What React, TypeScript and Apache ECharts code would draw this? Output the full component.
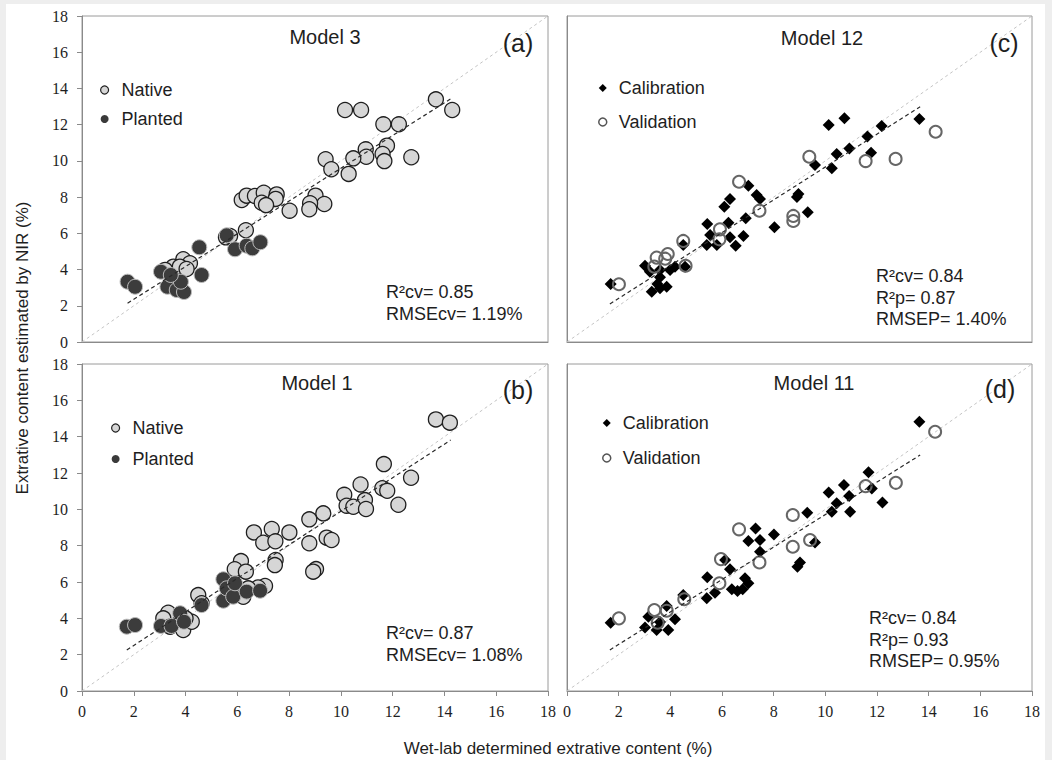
import React, { useEffect, useRef } from "react";
import * as echarts from "echarts";

// ---------- data ----------
const axisTicks = [0, 2, 4, 6, 8, 10, 12, 14, 16, 18];

const nativeA = [[13.67,13.40],[14.30,12.81],[10.16,12.81],[10.78,12.81],[11.64,12.02],[12.24,12.02],[11.78,10.84],[10.96,10.64],[11.61,10.38],[10.98,10.23],[10.48,10.14],[11.68,9.99],[12.72,10.20],[9.41,10.09],[9.63,9.54],[10.30,9.28],[9.02,8.08],[9.36,7.62],[8.81,7.66],[8.78,7.33],[8.02,7.25],[6.17,7.84],[6.36,8.08],[6.68,8.06],[7.02,8.24],[7.52,8.15],[7.48,7.90],[6.94,7.69],[7.11,7.56],[6.33,6.17],[5.56,5.78],[5.72,5.85],[3.91,4.57],[4.17,4.35],[3.53,4.16],[3.78,4.16],[4.04,4.03],[3.21,3.98]];
const plantedA = [[1.76,3.33],[2.05,3.05],[3.05,3.88],[3.30,3.05],[3.66,2.87],[3.94,2.76],[3.82,3.33],[3.43,3.70],[4.62,3.70],[4.53,5.23],[5.91,5.12],[6.36,5.32],[6.58,5.17],[6.89,5.51],[5.59,5.89]];
const regA = [[1.76,2.14],[14.3,13.48]];

const nativeB = [[13.67,14.95],[14.21,14.77],[11.66,12.49],[12.71,11.74],[10.76,11.37],[11.60,11.16],[11.79,11.02],[10.13,10.80],[10.93,10.51],[10.22,10.20],[10.48,10.14],[10.97,10.02],[12.22,10.25],[9.32,9.78],[8.78,9.45],[9.45,8.44],[9.64,8.31],[8.78,8.13],[9.04,6.71],[8.93,6.57],[8.01,8.73],[7.33,8.92],[6.64,8.73],[7.00,8.16],[7.47,8.24],[7.48,7.21],[7.45,6.93],[6.14,7.15],[5.90,6.70],[6.33,6.57],[7.07,5.78],[6.80,5.70],[6.42,5.65],[6.23,5.19],[4.49,5.28],[4.62,4.83],[3.33,4.31],[3.14,4.00],[3.40,3.54],[3.91,3.36],[4.24,3.81],[4.00,4.00]];
const plantedB = [[1.73,3.54],[2.05,3.63],[3.05,3.58],[3.46,3.58],[3.79,4.28],[3.94,3.81],[4.62,4.73],[5.46,6.15],[5.46,4.97],[5.59,5.65],[5.84,5.19],[5.91,5.93],[6.36,5.47],[6.88,5.52]];
const regB = [[1.73,2.26],[14.24,13.81]];

const calC = [[1.69,3.20],[13.64,12.31],[10.13,11.98],[10.74,12.35],[12.18,11.93],[11.63,11.34],[10.93,10.69],[10.44,10.38],[11.77,10.45],[9.60,9.77],[10.25,9.59],[7.02,8.63],[7.34,8.12],[7.47,7.90],[6.31,7.90],[6.09,7.47],[8.96,8.17],[8.90,8.00],[9.32,7.16],[8.03,6.33],[6.92,6.83],[5.43,6.52],[6.25,6.59],[5.54,5.91],[6.31,5.78],[6.83,5.85],[5.41,5.36],[5.80,5.36],[6.53,5.32],[4.50,5.36],[4.57,4.16],[3.02,4.21],[3.21,3.88],[3.60,3.98],[3.99,3.98],[4.18,4.16],[3.60,3.57],[3.28,2.78],[3.60,2.97],[3.86,3.05],[3.50,3.20]];
const valC = [[2.01,3.19],[14.27,11.61],[9.38,10.23],[11.56,9.99],[12.72,10.11],[6.66,8.85],[7.45,7.25],[8.76,6.96],[8.76,6.68],[5.92,6.22],[5.90,5.67],[4.50,5.58],[4.59,4.21],[3.90,4.86],[3.47,4.66],[3.80,4.60],[3.38,4.16]];
const regC = [[1.66,2.10],[13.67,12.99]];

const calD = [[1.69,3.76],[13.64,14.82],[11.67,12.04],[10.72,11.34],[10.13,10.93],[10.92,10.73],[11.80,11.15],[10.44,10.33],[12.21,10.38],[10.25,9.87],[10.96,9.87],[9.30,9.81],[7.30,8.95],[8.01,8.62],[7.02,8.26],[7.47,8.31],[7.47,7.67],[9.60,8.18],[9.02,7.08],[8.92,6.84],[6.12,7.21],[6.31,6.70],[5.43,6.26],[6.89,6.20],[7.02,5.93],[6.80,5.60],[6.38,5.60],[6.60,5.50],[5.73,5.41],[5.41,5.10],[4.50,5.28],[3.86,4.68],[4.18,3.95],[3.15,4.09],[3.02,3.50],[3.47,3.36],[3.92,3.36],[3.60,3.80]];
const valD = [[2.01,4.00],[14.25,14.27],[11.56,11.28],[12.73,11.46],[8.74,9.69],[9.41,8.31],[6.66,8.90],[8.74,7.94],[7.45,7.08],[5.96,7.26],[5.90,5.93],[4.54,5.05],[3.38,4.46],[3.86,4.42],[3.51,3.76]];
const regD = [[1.66,2.26],[13.67,12.99]];

const oneToOne = [[0,0],[18,18]];

const modelTitles = ["Model 3", "Model 1", "Model 12", "Model 11"];
const panelLetters = ["(a)", "(b)", "(c)", "(d)"];
const statsA = ["R²cv= 0.85", "RMSEcv= 1.19%"];
const statsB = ["R²cv= 0.87", "RMSEcv= 1.08%"];
const statsC = ["R²cv= 0.84", "R²p= 0.87", "RMSEP= 1.40%"];
const statsD = ["R²cv= 0.84", "R²p= 0.93", "RMSEP= 0.95%"];
const yTitle = "Extrative content estimated by NIR (%)";
const xTitle = "Wet-lab determined extrative content (%)";

// ---------- styles ----------
const SANS = "Liberation Sans, Arial, sans-serif";
const SERIF = "Liberation Serif, Times New Roman, serif";
const TXT = "#1e1e1e";
const AXIS = "#8a8a8a";

export default function App() {
  const ref = useRef<HTMLDivElement>(null);

  useEffect(() => {
    document.body.style.margin = "0";
    if (!ref.current) return;
    const chart = echarts.init(ref.current, null, { renderer: "svg" });

    const grids = [
      { left: 82, top: 16, width: 466, height: 326 },
      { left: 82, top: 364, width: 466, height: 327 },
      { left: 567, top: 16, width: 465, height: 326 },
      { left: 567, top: 364, width: 465, height: 327 },
    ].map((g) => ({ ...g, show: true, borderColor: "#9a9a9a", borderWidth: 1, backgroundColor: "#fff" }));

    const mkX = (i: number, labels: boolean) => ({
      type: "value",
      gridIndex: i,
      min: axisTicks[0],
      max: axisTicks[axisTicks.length - 1],
      interval: 2,
      axisLine: { show: true, lineStyle: { color: AXIS, width: 1 } },
      axisTick: { show: labels, inside: false, length: 5, lineStyle: { color: AXIS } },
      axisLabel: { show: labels, margin: 12, fontFamily: SERIF, fontSize: 16, color: TXT },
      splitLine: { show: false },
    });
    const mkY = (i: number, labels: boolean) => ({
      type: "value",
      gridIndex: i,
      min: axisTicks[0],
      max: axisTicks[axisTicks.length - 1],
      interval: 2,
      axisLine: { show: true, lineStyle: { color: AXIS, width: 1 } },
      axisTick: { show: labels, inside: false, length: 5, lineStyle: { color: AXIS } },
      axisLabel: { show: labels, margin: 14, fontFamily: SERIF, fontSize: 16, color: TXT },
      splitLine: { show: false },
    });

    const xAxis = [mkX(0, false), mkX(1, true), mkX(2, false), mkX(3, true)];
    const yAxis = [mkY(0, true), mkY(1, true), mkY(2, false), mkY(3, false)];

    const diag = (i: number) => ({
      name: "1:1 " + i,
      type: "line",
      xAxisIndex: i,
      yAxisIndex: i,
      data: oneToOne,
      symbol: "none",
      silent: true,
      z: 1,
      lineStyle: { color: "#c4c4c4", width: 1, type: [3, 3] },
    });
    const reg = (i: number, d: number[][]) => ({
      name: "fit " + i,
      type: "line",
      xAxisIndex: i,
      yAxisIndex: i,
      data: d,
      symbol: "none",
      silent: true,
      z: 5,
      lineStyle: { color: "#2a2a2a", width: 1.2, type: [4, 3] },
    });
    const native = (i: number, d: number[][]) => ({
      name: "Native",
      type: "scatter",
      xAxisIndex: i,
      yAxisIndex: i,
      data: d,
      symbol: "circle",
      symbolSize: 15,
      z: 3,
      itemStyle: { color: "#d6d6d6", borderColor: "#1f1f1f", borderWidth: 1.3, opacity: 1 },
    });
    const planted = (i: number, d: number[][]) => ({
      name: "Planted",
      type: "scatter",
      xAxisIndex: i,
      yAxisIndex: i,
      data: d,
      symbol: "circle",
      symbolSize: 15,
      z: 4,
      itemStyle: { color: "#3c3c3c", borderColor: "#bdbdbd", borderWidth: 1, opacity: 1 },
    });
    const cal = (i: number, d: number[][]) => ({
      name: "Calibration",
      type: "scatter",
      xAxisIndex: i,
      yAxisIndex: i,
      data: d,
      symbol: "diamond",
      symbolSize: 12,
      z: 3,
      itemStyle: { color: "#000", opacity: 1 },
    });
    const val = (i: number, d: number[][]) => ({
      name: "Validation",
      type: "scatter",
      xAxisIndex: i,
      yAxisIndex: i,
      data: d,
      symbol: "circle",
      symbolSize: 12,
      z: 4,
      itemStyle: { color: "rgba(255,255,255,0)", borderColor: "#666", borderWidth: 2, opacity: 1 },
    });

    const series = [
      diag(0), native(0, nativeA), planted(0, plantedA), reg(0, regA),
      diag(1), native(1, nativeB), planted(1, plantedB), reg(1, regB),
      diag(2), cal(2, calC), val(2, valC), reg(2, regC),
      diag(3), cal(3, calD), val(3, valD), reg(3, regD),
    ];

    const legendItems: Record<string, any> = {
      Native: { name: "Native", itemStyle: { color: "#d6d6d6", borderColor: "#222", borderWidth: 1.2 } },
      Planted: { name: "Planted", itemStyle: { color: "#3a3a3a", borderColor: "#3a3a3a", borderWidth: 0 } },
      Calibration: { name: "Calibration", itemStyle: { color: "#000" } },
      Validation: { name: "Validation", itemStyle: { color: "rgba(255,255,255,0)", borderColor: "#555", borderWidth: 1.5 } },
    };

    const mkLegend = (left: number, top: number, gap: number, names: string[], pad: number) => ({
      left,
      top,
      orient: "vertical",
      padding: 0,
      itemGap: gap,
      itemWidth: 8,
      itemHeight: 8,
      selectedMode: false,
      data: names.map((n) => legendItems[n]),
      textStyle: { fontFamily: SANS, fontSize: 18, color: TXT, lineHeight: 20, padding: [0, 0, 0, pad] },
    });
    const legend = [
      mkLegend(100, 80, 9, ["Native", "Planted"], 8),
      mkLegend(111, 418, 11, ["Native", "Planted"], 8),
      mkLegend(598, 78, 14, ["Calibration", "Validation"], 7),
      mkLegend(602, 413, 15, ["Calibration", "Validation"], 7),
    ];

    const txt = (x: number, y: number, text: string, size: number, align = "center", extra: any = {}) => ({
      type: "text",
      x,
      y,
      silent: true,
      z: 10,
      style: {
        text,
        fontFamily: SANS,
        fontSize: size,
        fill: TXT,
        textAlign: align,
        textVerticalAlign: "middle",
      },
      ...extra,
    });
    const stats = (x: number, y0: number, gap: number, lines: string[]) =>
      lines.map((l, k) => txt(x, y0 + k * gap, l, 18, "left"));

    const graphic = [
      { type: "rect", shape: { x: 0, y: 0, width: 1052, height: 760 }, style: { fill: "#eeeeee" }, z: -10, silent: true },
      { type: "rect", shape: { x: 6, y: 4, width: 1039, height: 756 }, style: { fill: "#ffffff" }, z: -9, silent: true },
      txt(325, 37, modelTitles[0], 20),
      txt(317, 383, modelTitles[1], 20),
      txt(822, 38, modelTitles[2], 20),
      txt(814, 383, modelTitles[3], 20),
      txt(518, 43, panelLetters[0], 25),
      txt(518, 390, panelLetters[1], 25),
      txt(1004, 43, panelLetters[2], 25),
      txt(1000, 389, panelLetters[3], 25),
      ...stats(386, 292, 21.7, statsA),
      ...stats(386, 633, 21.7, statsB),
      ...stats(876, 276, 21.7, statsC),
      ...stats(869, 618, 21.7, statsD),
      txt(558, 748, xTitle, 17),
      txt(22, 348, yTitle, 17, "center", { rotation: Math.PI / 2 }),
    ];

    chart.setOption({
      animation: false,
      backgroundColor: "#eeeeee",
      grid: grids,
      xAxis,
      yAxis,
      legend,
      series,
      graphic,
    });

    return () => chart.dispose();
  }, []);

  return <div ref={ref} style={{ width: 1052, height: 760 }} />;
}
